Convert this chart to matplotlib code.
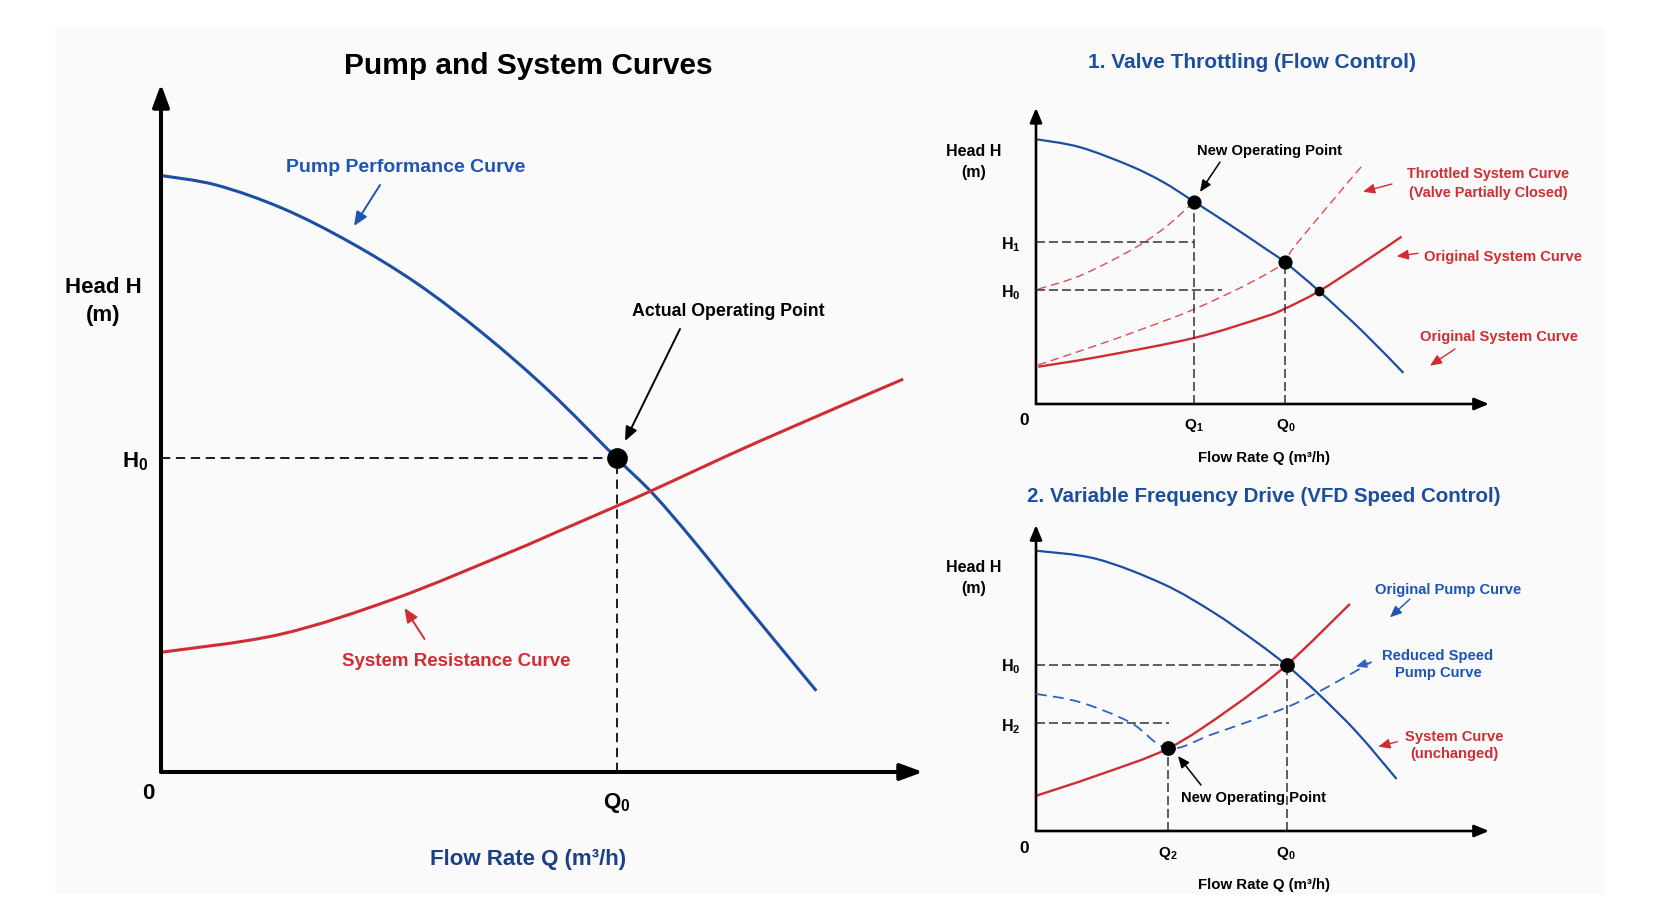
import matplotlib
matplotlib.use("Agg")
import matplotlib.pyplot as plt
from matplotlib.patches import Rectangle, PathPatch, FancyArrowPatch
from matplotlib.path import Path

plt.rcParams['font.family'] = ['Liberation Sans', 'DejaVu Sans']
plt.rcParams['mathtext.fontset'] = 'custom'
plt.rcParams['mathtext.rm'] = 'Liberation Sans:bold'
plt.rcParams['mathtext.it'] = 'Liberation Sans:bold'
plt.rcParams['mathtext.bf'] = 'Liberation Sans:bold'
plt.rcParams['mathtext.default'] = 'rm'

# ---------------- data ----------------
# Main chart
main_pump_q = [0, 7.3, 16.0, 24.8, 33.6, 42.3, 51.0, 59.8, 64.6, 69.9, 76.4, 86.0]
main_pump_h = [86.7, 85.3, 81.9, 77.0, 71.0, 63.7, 55.3, 45.6, 40.4, 33.6, 24.7, 11.8]
main_sys_q = [0, 15.6, 30.7, 45.7, 52.4, 59.9, 64.6, 78.6, 97.4]
main_sys_h = [17.4, 20.0, 25.2, 31.9, 35.1, 38.7, 41.0, 48.1, 57.1]
main_q0, main_h0 = 59.8, 45.6

# Panel 1: valve throttling
v_pump_q = [0, 9.7, 20.8, 28.1, 34.9, 42.8, 50.2, 55.0, 62.5, 72.3, 81.1]
v_pump_h = [89.4, 86.7, 80.4, 74.9, 68.3, 60.5, 52.9, 47.8, 38.1, 24.2, 10.5]
v_sys_q = [0.5, 13.4, 34.9, 50.2, 55.1, 62.5, 72.3, 80.7]
v_sys_h = [12.6, 15.8, 22.3, 29.3, 32.3, 38.1, 47.8, 56.5]
v_thrA_q = [0.5, 9.7, 20.8, 28.1, 34.9]
v_thrA_h = [38.8, 43.3, 51.8, 59.1, 68.3]
v_thrB_q = [0.5, 13.4, 24.0, 34.9, 46.5, 55.0, 56.4, 63.4, 72.3]
v_thrB_h = [13.2, 19.8, 25.6, 32.0, 40.3, 47.8, 51.8, 64.9, 81.0]
v_q1, v_h1_pt = 34.9, 68.3
v_q0, v_h0_pt = 55.0, 47.8
v_h1_line, v_h0_line, v_h0_line_end = 54.8, 38.5, 41.0
v_cross_q, v_cross_h = 62.5, 38.1

# Panel 2: VFD
f_pump_q = [0, 13.4, 28.1, 39.1, 48.7, 55.3, 62.0, 70.8, 79.6]
f_pump_h = [91.6, 88.9, 80.7, 71.5, 61.7, 54.2, 45.3, 32.3, 17.0]
f_sys_q = [0, 13.4, 29.2, 42.8, 55.3, 69.3]
f_sys_h = [11.5, 18.1, 27.0, 39.9, 54.2, 74.2]
f_red_q = [0, 9.7, 20.8, 29.2, 39.1, 55.3, 64.9, 74.1]
f_red_h = [44.8, 42.1, 35.5, 27.0, 31.7, 40.4, 47.5, 55.3]
f_q0, f_h0 = 55.3, 54.2
f_q2, f_h2_pt = 29.2, 27.0
f_h2_line, f_h2_line_end = 35.3, 29.4

# ---------------- styling ----------------
W, H = 1656, 920
BLUE = '#1c4ea3'
BLUE_T = '#1e55b3'
TITLE_B = '#1b4f9e'
NAVY = '#1c3f86'
RED = '#cf2d33'
RED_D = '#e04a4f'
BLUE_D = '#2f62c4'
DY = 2.5  # small vertical nudge for label text

fig = plt.figure(figsize=(W / 100, H / 100), dpi=100)
fig.patch.set_facecolor('white')
fig.patches.append(Rectangle((55 / W, 1 - 895 / H), (1605 - 55) / W, (895 - 28) / H,
                             transform=fig.transFigure, facecolor='#fafafa',
                             edgecolor='none', zorder=-10))


def P(x, y):
    return (x / W, 1 - y / H)


def txt(x, y, s, size, color='black', ha='center', va='center', ls=1.2):
    fig.text(x / W, 1 - (y + DY) / H, s, fontsize=size, fontweight='bold', color=color,
             ha=ha, va=va, linespacing=ls)


def arrow(x0, y0, x1, y1, color, lw=1.3, ms=12, hl=0.7, hw=0.3):
    fig.add_artist(FancyArrowPatch(
        P(x0, y0), P(x1, y1), transform=fig.transFigure,
        arrowstyle=f'-|>,head_length={hl},head_width={hw}', mutation_scale=ms,
        color=color, lw=lw, shrinkA=0, shrinkB=0))


def make_ax(x0, x1, y0, y1):
    ax = fig.add_axes([x0 / W, 1 - y0 / H, (x1 - x0) / W, (y0 - y1) / H])
    ax.set_xlim(0, 100)
    ax.set_ylim(0, 100)
    ax.axis('off')
    ax.patch.set_alpha(0)
    return ax


def axis_arrows(ax, lw, ms, hl, hw):
    for xy in [(100, 0), (0, 100)]:
        ax.annotate('', xy=xy, xytext=(0, 0), annotation_clip=False,
                    arrowprops=dict(arrowstyle=f'-|>,head_length={hl},head_width={hw}',
                                    lw=lw, color='black', shrinkA=0, shrinkB=0,
                                    mutation_scale=ms))


def curve(ax, xs, ys, color, lw, dashes=None, z=2):
    """Smooth curve through the read points (cubic Bezier segments)."""
    pts = list(zip(xs, ys))
    n = len(pts)
    verts = [pts[0]]
    codes = [Path.MOVETO]
    for i in range(n - 1):
        p0 = pts[i - 1] if i > 0 else pts[i]
        p1, p2 = pts[i], pts[i + 1]
        p3 = pts[i + 2] if i + 2 < n else pts[i + 1]
        c1 = (p1[0] + (p2[0] - p0[0]) / 6, p1[1] + (p2[1] - p0[1]) / 6)
        c2 = (p2[0] - (p3[0] - p1[0]) / 6, p2[1] - (p3[1] - p1[1]) / 6)
        verts += [c1, c2, p2]
        codes += [Path.CURVE4] * 3
    ls = (0, dashes) if dashes else '-'
    patch = PathPatch(Path(verts, codes), fill=False, edgecolor=color, lw=lw,
                      linestyle=ls, clip_on=False, zorder=z, capstyle='butt')
    ax.add_patch(patch)


# ---------------- main chart ----------------
ax = make_ax(161, 923, 773, 85)
axis_arrows(ax, 2.9, 20, 0.68, 0.25)
curve(ax, main_pump_q, main_pump_h, BLUE, 2.2)
curve(ax, main_sys_q, main_sys_h, RED, 2.2)
ax.plot([0, main_q0], [main_h0, main_h0], color='#222222', lw=1.45, dashes=(4.6, 2.8))
ax.plot([main_q0, main_q0], [0, main_h0], color='#222222', lw=1.45, dashes=(4.6, 2.8))
ax.plot([main_q0], [main_h0], 'o', color='black', ms=13.9, zorder=5, clip_on=False)

txt(528, 64, 'Pump and System Curves', 21.5)
txt(103.5, 299, 'Head H\n(m)', 16, ls=1.42)
txt(135, 459, 'H$_0$', 16)
txt(148, 791, '0', 16)
txt(617, 801, 'Q$_0$', 16)
txt(405.5, 165, 'Pump Performance Curve', 14, BLUE_T)
txt(728.6, 309, 'Actual Operating Point', 12.8)
txt(456, 659, 'System Resistance Curve', 13.5, RED)
txt(528, 857.5, 'Flow Rate Q (m³/h)', 16, NAVY)
arrow(380, 186, 354, 227, BLUE_T, lw=1.4)
arrow(680, 330, 625, 442, 'black', lw=1.4)
arrow(424.5, 640, 404.5, 609, RED, lw=1.4)

# ---------------- panel 1 ----------------
ax1 = make_ax(1036, 1489, 405, 108.8)
axis_arrows(ax1, 1.9, 15, 0.58, 0.24)
curve(ax1, v_pump_q, v_pump_h, BLUE, 1.6)
curve(ax1, v_sys_q, v_sys_h, RED, 1.7)
curve(ax1, v_thrA_q, v_thrA_h, RED_D, 1.0, dashes=(6, 3.5))
curve(ax1, v_thrB_q, v_thrB_h, RED_D, 1.0, dashes=(6, 3.5))
dk = dict(color='#333333', lw=1.1, dashes=(5.9, 2.6))
ax1.plot([0, v_q1], [v_h1_line, v_h1_line], **dk)
ax1.plot([0, v_h0_line_end], [v_h0_line, v_h0_line], **dk)
ax1.plot([v_q1, v_q1], [0, v_h1_pt], **dk)
ax1.plot([v_q0, v_q0], [0, v_h0_pt], **dk)
ax1.plot([v_q1, v_q0], [v_h1_pt, v_h0_pt], 'o', color='black', ms=9.2, zorder=5)
ax1.plot([v_cross_q], [v_cross_h], 'o', color='black', ms=6, zorder=5)

txt(1252, 60, '1. Valve Throttling (Flow Control)', 15, TITLE_B)
txt(973.6, 159, 'Head H\n(m)', 11.5, ls=1.5)
txt(1010.6, 242, 'H$_1$', 11.5)
txt(1010.6, 290, 'H$_0$', 11.5)
txt(1024, 418, '0', 12.5)
txt(1194, 423.5, 'Q$_1$', 11)
txt(1286, 423.5, 'Q$_0$', 11)
txt(1264, 456, 'Flow Rate Q (m³/h)', 10.8)
txt(1270, 149, 'New Operating Point', 10.6)
arrow(1220, 163, 1200, 193, 'black', lw=1.1, ms=10)
txt(1488, 181, 'Throttled System Curve\n(Valve Partially Closed)', 10.4, RED, ls=1.38)
arrow(1392, 185, 1363, 192.7, RED, lw=1.0, ms=10)
txt(1503.3, 255, 'Original System Curve', 10.6, RED)
arrow(1418, 254.3, 1396.7, 257.3, RED, lw=1.0, ms=10)
txt(1499.3, 335, 'Original System Curve', 10.6, RED)
arrow(1455, 350, 1430, 366.7, RED, lw=1.0, ms=10)

# ---------------- panel 2 ----------------
ax2 = make_ax(1036, 1489, 832, 526)
axis_arrows(ax2, 1.9, 15, 0.58, 0.24)
curve(ax2, f_pump_q, f_pump_h, BLUE, 1.6)
curve(ax2, f_sys_q, f_sys_h, RED, 1.7)
curve(ax2, f_red_q, f_red_h, BLUE_D, 1.3, dashes=(6, 3.5), z=3)
ax2.plot([0, f_q0], [f_h0, f_h0], **dk)
ax2.plot([0, f_h2_line_end], [f_h2_line, f_h2_line], **dk)
ax2.plot([f_q2, f_q2], [0, f_h2_pt], **dk)
ax2.plot([f_q0, f_q0], [0, f_h0], **dk)
ax2.plot([f_q0, f_q2], [f_h0, f_h2_pt], 'o', color='black', ms=9.6, zorder=5)

txt(1264, 494, '2. Variable Frequency Drive (VFD Speed Control)', 14.8, TITLE_B)
txt(973.6, 576, 'Head H\n(m)', 11.5, ls=1.5)
txt(1010.6, 664.3, 'H$_0$', 11.5)
txt(1010.6, 724.5, 'H$_2$', 11.5)
txt(1024, 846, '0', 12.5)
txt(1168, 851, 'Q$_2$', 11)
txt(1286, 851, 'Q$_0$', 11)
txt(1264, 883, 'Flow Rate Q (m³/h)', 10.8)
txt(1253.5, 796, 'New Operating Point', 10.6)
arrow(1201, 786, 1178, 757, 'black', lw=1.1, ms=10)
txt(1447.7, 587.3, 'Original Pump Curve', 10.6, BLUE_T)
arrow(1410, 600, 1390, 618.3, BLUE_T, lw=1.0, ms=10)
txt(1438, 662, 'Reduced Speed\nPump Curve', 10.6, BLUE_T, ls=1.3)
arrow(1368, 664, 1356, 667.5, BLUE_D, lw=1.0, ms=9)
txt(1454, 743, 'System Curve\n(unchanged)', 10.6, RED, ls=1.3)
arrow(1397.3, 742.7, 1378.3, 747.7, RED, lw=1.0, ms=10)

fig.savefig('out.png', dpi=100, facecolor='white')
